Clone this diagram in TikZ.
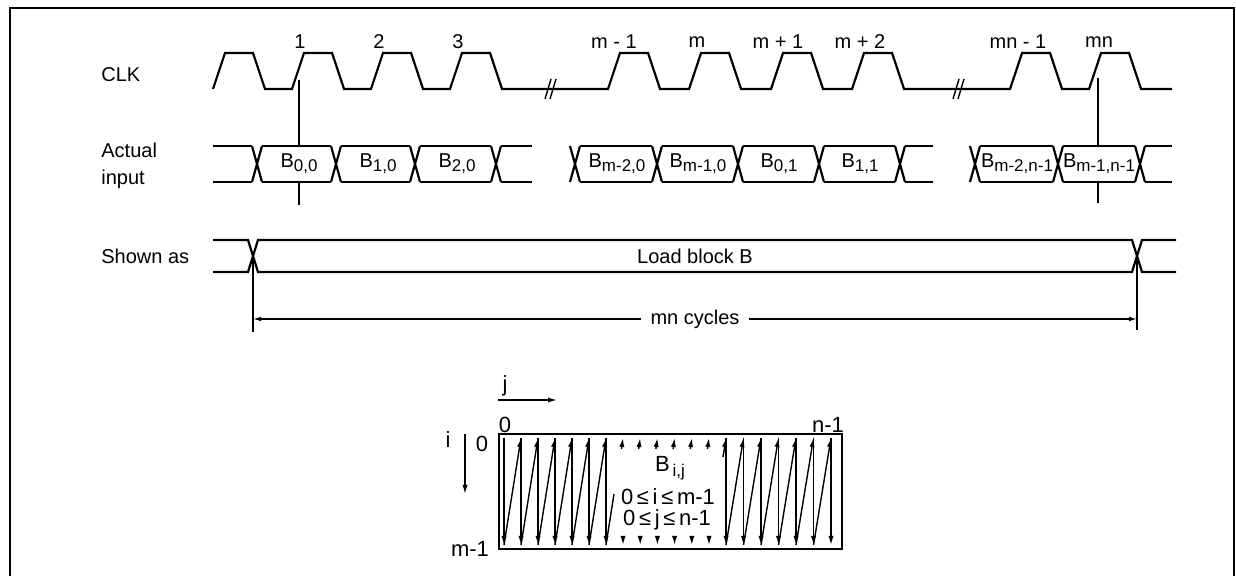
\documentclass[tikz,border=0pt]{standalone}
\usepackage{fontspec}
\setmainfont{Liberation Sans}
\usetikzlibrary{arrows.meta}

\newcommand{\bsub}[1]{\raisebox{-0.4ex}{\fontsize{8.5}{9}\selectfont #1}}

\tikzset{
  wave/.style={line width=1.1pt},
  thinline/.style={line width=0.7pt},
  lbl/.style={font=\fontsize{10}{13.5}\selectfont, inner sep=0pt},
  mlbl/.style={font=\fontsize{11}{12}\selectfont, inner sep=0pt},
  tip/.style={-{Latex[length=4.5pt,width=2.6pt]}},
}

\begin{document}
\begin{tikzpicture}[x=0.5pt,y=-0.5pt]
  \useasboundingbox (0,0) rectangle (1236,576);
  % outer frame
  \draw[line width=1.2pt] (10,576) -- (10,8) -- (1234,8) -- (1234,576);

  % row names
  \node[lbl,anchor=west] (clk) at (101,75) {CLK};
  \node[lbl,anchor=west,align=left] (actual) at (101,166) {Actual\\input};
  \node[lbl,anchor=west] (shown) at (101,256) {Shown as};

  % the clock, with two breaks
  \draw[wave] (213,89)
    \foreach \r in {213,292,371,450} { -- (\r,89) -- ++(12,-36) -- ++(28,0) -- ++(12,36) }
    -- (608,89)
    \foreach \r in {608,689,771,852} { -- (\r,89) -- ++(12,-36) -- ++(28,0) -- ++(12,36) }
    -- (1010,89)
    \foreach \r in {1010,1089} { -- (\r,89) -- ++(12,-36) -- ++(28,0) -- ++(12,36) }
    -- (1172,89);
  \foreach \c in {552,960}
    \draw[thinline] (\c-7,99) -- (\c-1,79) (\c-2,99) -- (\c+4,79);
  \foreach \x/\t [count=\k] in {300/1,379/2,458/3,614/m - 1,697/m,778/m + 1,860/m + 2,1018/mn - 1,1099/mn}
    \node[lbl] (n\k) at (\x,42) {\t};

  % actual input words
  \foreach \c in {257,336,415,496,575,657,738,819,900,975,1058,1140}
    \draw[wave] (\c-5,146) -- (\c+5,182) (\c-5,182) -- (\c+5,146);
  \foreach \a/\b in {213/252,262/331,341/410,420/491,501/532,580/652,662/733,743/814,824/895,905/933,980/1053,1063/1135,1145/1172}
    \draw[wave] (\a,146) -- (\b,146) (\a,182) -- (\b,182);
  \foreach \x/\t [count=\k] in {299/{0,0},378/{1,0},457/{2,0},617/{m-2,0},698/{m-1,0},779/{0,1},860/{1,1},1017/{m-2,n-1},1099/{m-1,n-1}}
    \node[lbl] (b\k) at (\x,164) {B\bsub{\t}};

  % edges 1 and mn carried down, broken by the word
  \coordinate (e1) at (299,80);   \coordinate (e1t) at (299,146);
  \coordinate (e1u) at (299,182); \coordinate (e1b) at (299,205);
  \coordinate (emn) at (1098,78);  \coordinate (emnt) at (1098,146);
  \coordinate (emnu) at (1098,182); \coordinate (emnb) at (1098,203);
  \draw[thinline] (e1) -- (e1t) (e1u) -- (e1b);
  \draw[thinline] (emn) -- (emnt) (emnu) -- (emnb);

  % shown as one block
  \draw[wave] (213,240) -- (248,240) -- (258,272) -- (1132,272) -- (1142,240) -- (1176,240);
  \draw[wave] (213,272) -- (248,272) -- (258,240) -- (1132,240) -- (1142,272) -- (1176,272);
  \node[lbl] (load) at (695,256) {Load block B};

  % length of the block
  \coordinate (sL) at (253,256); \coordinate (sLb) at (253,332);
  \coordinate (sR) at (1137,256); \coordinate (sRb) at (1137,330);
  \draw[thinline] (sL) -- (sLb);
  \draw[thinline] (sR) -- (sRb);
  \draw[thinline,{Latex[length=4pt,width=2.4pt]}-{Latex[length=4pt,width=2.4pt]}]
    (253,319) -- node[lbl,fill=white,inner xsep=5pt] (cyc) {mn cycles} (1137,319);

  % order of the words in B
  \draw[thinline] (499,434) rectangle (842,549);
  \node[mlbl] (jl) at (505,386) {j};
  \coordinate (ja) at (498,400); \coordinate (jb) at (557,400);
  \draw[thinline,tip] (ja) -- (jb);
  \node[mlbl] (c0) at (505,425) {0};
  \node[mlbl] (cn) at (828,425) {n-1};
  \node[mlbl] (il) at (448,440) {i};
  \coordinate (ia) at (465,434); \coordinate (ib) at (465,494);
  \draw[thinline,tip] (ia) -- (ib);
  \node[mlbl] (r0) at (482,444) {0};
  \node[mlbl] (rm) at (470,549) {m-1};
  \foreach \k in {0,...,6} {
    \draw[thinline,tip] (504+17*\k,438) -- (504+17*\k,545);
    \draw[thinline,tip] (726+17.5*\k,438) -- (726+17.5*\k,545);
  }
  \foreach \k in {0,...,5} {
    \draw[thinline,tip] (504+17*\k,545) -- (521+17*\k,438);
    \draw[thinline,tip] (726+17.5*\k,545) -- (743.5+17.5*\k,438);
  }
  \draw[thinline] (606,545) -- (614,494);
  \draw[thinline,tip] (723,457) -- (726,438);
  \foreach \k in {0,...,5} {
    \draw[thinline,tip] (621.5+17.2*\k,449) -- (623+17.2*\k,438);
    \draw[thinline,tip] (623+17.2*\k,537) -- (623+17.2*\k,545);
  }
  \node[mlbl] (bij) at (670,468) {B\bsub{\,i,j}};
  \node[mlbl] (ri) at (668,497) {0\,≤\,i\,≤\,m-1};
  \node[mlbl] (rj) at (667,520) {0\,≤\,j\,≤\,n-1};
\end{tikzpicture}
\end{document}
